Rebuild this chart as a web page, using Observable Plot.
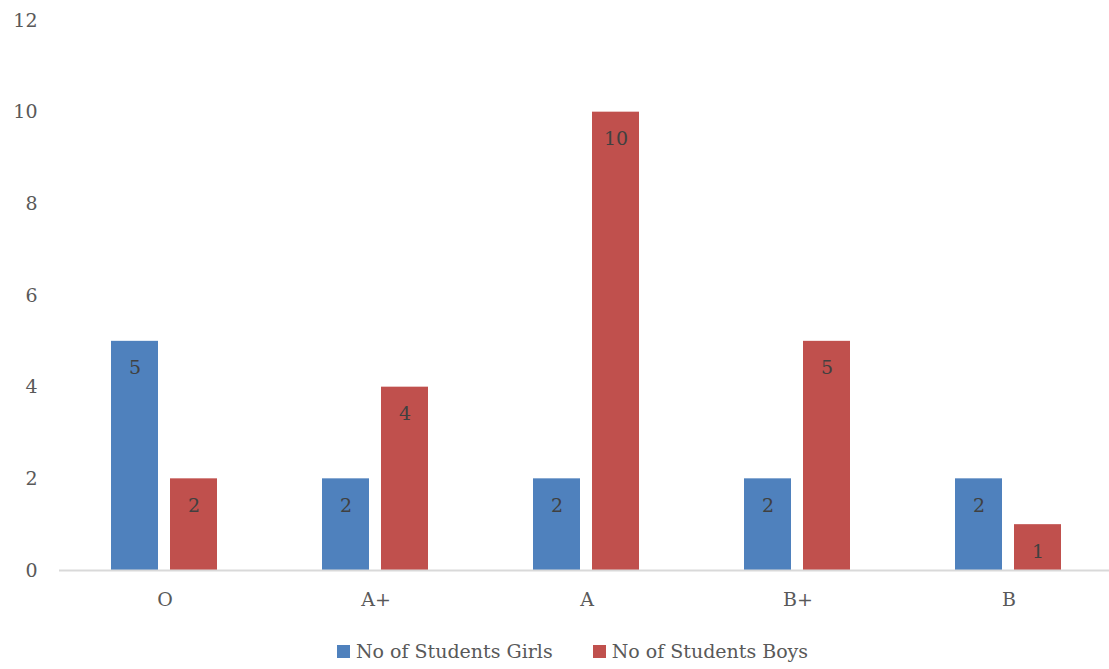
<!DOCTYPE html>
<html>
<head>
<meta charset="utf-8">
<script src="https://cdn.jsdelivr.net/npm/d3@7"></script>
<script src="https://cdn.jsdelivr.net/npm/@observablehq/plot@0.6"></script>
<style>
  html, body { margin: 0; padding: 0; background: #fff; }
  #chart { width: 1109px; }
  .legend { display: flex; justify-content: center; gap: 40px; font-family: "DejaVu Serif", serif; font-size: 19px; color: #595959; margin-top: 10px; padding-left: 36px; }
  .legend span.item { display: flex; align-items: center; }
  .legend span.sw { display: inline-block; width: 13px; height: 13px; margin-right: 6px; }
</style>
</head>
<body>
<div id="chart"></div>
<script>
const grades = ["O", "A+", "A", "B+", "B"];
const seriesNames = ["No of Students Girls", "No of Students Boys"];
const girls = [5, 2, 2, 2, 2];
const boys = [2, 4, 10, 5, 1];
const colors = ["#4f81bd", "#c0504d"];
const yTicks = [0, 2, 4, 6, 8, 10, 12];

const data = [];
grades.forEach((g, i) => {
  data.push({grade: g, series: seriesNames[0], value: girls[i]});
  data.push({grade: g, series: seriesNames[1], value: boys[i]});
});

const font = '"DejaVu Serif", serif';

const chart = Plot.plot({
  width: 1109,
  height: 630,
  marginLeft: 57,
  marginRight: -6,
  marginTop: 20,
  marginBottom: 60,
  style: {fontFamily: font, fontSize: "19px", color: "#595959", background: "#fff"},
  fx: {domain: grades, padding: 0, label: null, axis: "bottom", tickSize: 0, tickPadding: 22},
  x: {domain: seriesNames, axis: null, paddingInner: 0.2, paddingOuter: 0.8625},
  y: {domain: [0, 12], ticks: yTicks, tickSize: 0, tickPadding: 22, label: null, tickFormat: d => d},
  color: {domain: seriesNames, range: colors},
  marks: [
    Plot.barY(data, {fx: "grade", x: "series", y: "value", fill: "series"}),
    Plot.ruleY([0], {stroke: "#d9d9d9", strokeWidth: 2}),
    Plot.text(data, {fx: "grade", x: "series", y: "value", text: d => String(d.value), dy: 27, fill: "#404040", fontSize: 19})
  ]
});
document.getElementById("chart").appendChild(chart);

const legend = document.createElement("div");
legend.className = "legend";
seriesNames.forEach((s, i) => {
  const item = document.createElement("span");
  item.className = "item";
  const sw = document.createElement("span");
  sw.className = "sw";
  sw.style.background = colors[i];
  item.appendChild(sw);
  item.appendChild(document.createTextNode(s));
  legend.appendChild(item);
});
document.getElementById("chart").appendChild(legend);
</script>
</body>
</html>
